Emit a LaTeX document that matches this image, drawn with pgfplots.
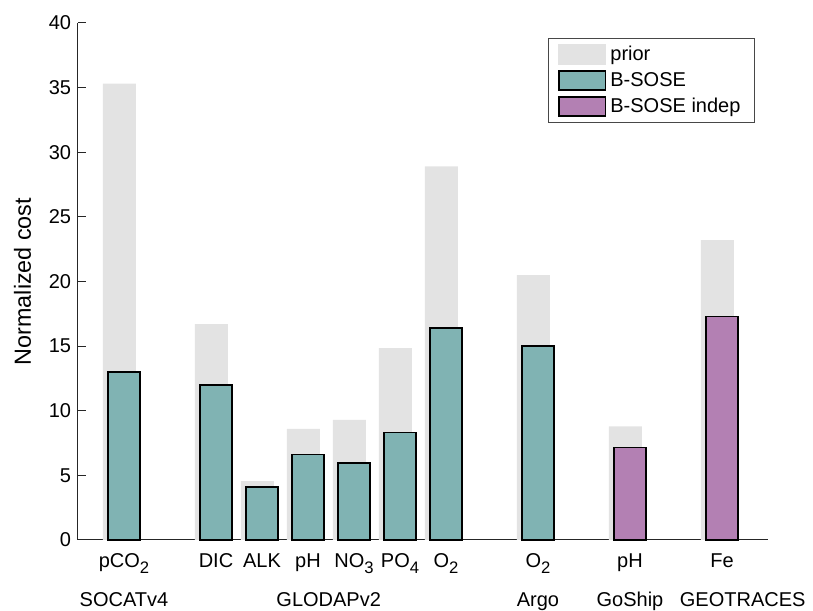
\documentclass[border=0pt]{standalone}
\usepackage{pgfplots}
\pgfplotsset{compat=1.18}
\usepackage{fontspec}
\setmainfont{Liberation Sans}
\definecolor{priorgray}{HTML}{E3E3E3}
\definecolor{bsose}{HTML}{80B3B3}
\definecolor{indep}{HTML}{B380B3}
\definecolor{axcol}{HTML}{262626}
\newcommand{\sub}[1]{\raisebox{-0.3em}{\fontsize{12.5}{12.5}\selectfont #1}}
\begin{document}
\fontsize{15}{18}\selectfont
\begin{tikzpicture}
\begin{axis}[
  scale only axis, width=517.5pt, height=387.75pt,
  xmin=0, xmax=15, ymin=0, ymax=40,
  axis x line*=bottom, axis y line*=left,
  axis line style={axcol, line width=0.75pt},
  ytick={0,5,...,40},
  tick align=inside, major tick length=6pt,
  tick style={axcol, line width=0.75pt},
  xtick={1,3,4,5,6,7,8,10,12,14},
  xticklabels={pCO\sub{2},DIC,ALK,pH,NO\sub{3},PO\sub{4},O\sub{2},O\sub{2},pH,Fe},
  xtick style={draw=none},
  xticklabel style={yshift=-4.75pt},
  /pgf/number format/assume math mode=true,
  ylabel={Normalized cost},
  ylabel style={at={(rel axis cs:-0.0804,0.5)}, anchor=center, font=\fontsize{17.5}{20}\selectfont},
  clip=false,
  legend cell align=left,
  legend style={at={(rel axis cs:0.681,0.971)}, anchor=north west, draw=axcol!85, line width=0.75pt,
    inner xsep=7.5pt, inner ysep=4.5pt, row sep=4.3pt, /tikz/column sep=0pt,
    nodes={inner xsep=3pt, inner ysep=0pt, text height=0pt, text depth=0pt}},
]
\addplot[ybar, bar width=0.72, bar shift=-0.1, fill=priorgray, draw=none,
  legend image code/.code={\fill[priorgray] (-0.5pt,-3.1pt) rectangle (35.5pt,12.1pt);}]
  coordinates {(1,35.3) (3,16.7) (4,4.55) (5,8.6) (6,9.3) (7,14.85) (8,28.9) (10,20.5) (12,8.8) (14,23.2)};
\addlegendentry{prior}
\addplot[ybar, bar width=0.7, bar shift=0, fill=bsose, draw=black, line width=1pt,
  legend image code/.code={\draw[fill=bsose, draw=black, line width=1pt] (0pt,-2.6pt) rectangle (35pt,11.6pt);}]
  coordinates {(1,13.0) (3,12.0) (4,4.1) (5,6.6) (6,5.95) (7,8.3) (8,16.4) (10,15.0)};
\addlegendentry{B-SOSE}
\addplot[ybar, bar width=0.7, bar shift=0, fill=indep, draw=black, line width=1pt,
  legend image code/.code={\draw[fill=indep, draw=black, line width=1pt] (0pt,-2.6pt) rectangle (35pt,11.6pt);}]
  coordinates {(12,7.15) (14,17.3)};
\addlegendentry{B-SOSE indep}
\node[anchor=base] at (axis cs:1,-5.18) {SOCATv4};
\node[anchor=base] at (axis cs:5.45,-5.18) {GLODAPv2};
\node[anchor=base] at (axis cs:10,-5.18) {Argo};
\node[anchor=base] at (axis cs:12,-5.18) {GoShip};
\node[anchor=base] at (axis cs:14.45,-5.18) {GEOTRACES};
\coordinate (bbsw) at (rel axis cs:-0.11304,-0.13540);
\coordinate (bbne) at (rel axis cs:1.06522,1.04449);
\end{axis}
\pgfresetboundingbox
\path (bbsw) rectangle (bbne);
\end{tikzpicture}
\end{document}
